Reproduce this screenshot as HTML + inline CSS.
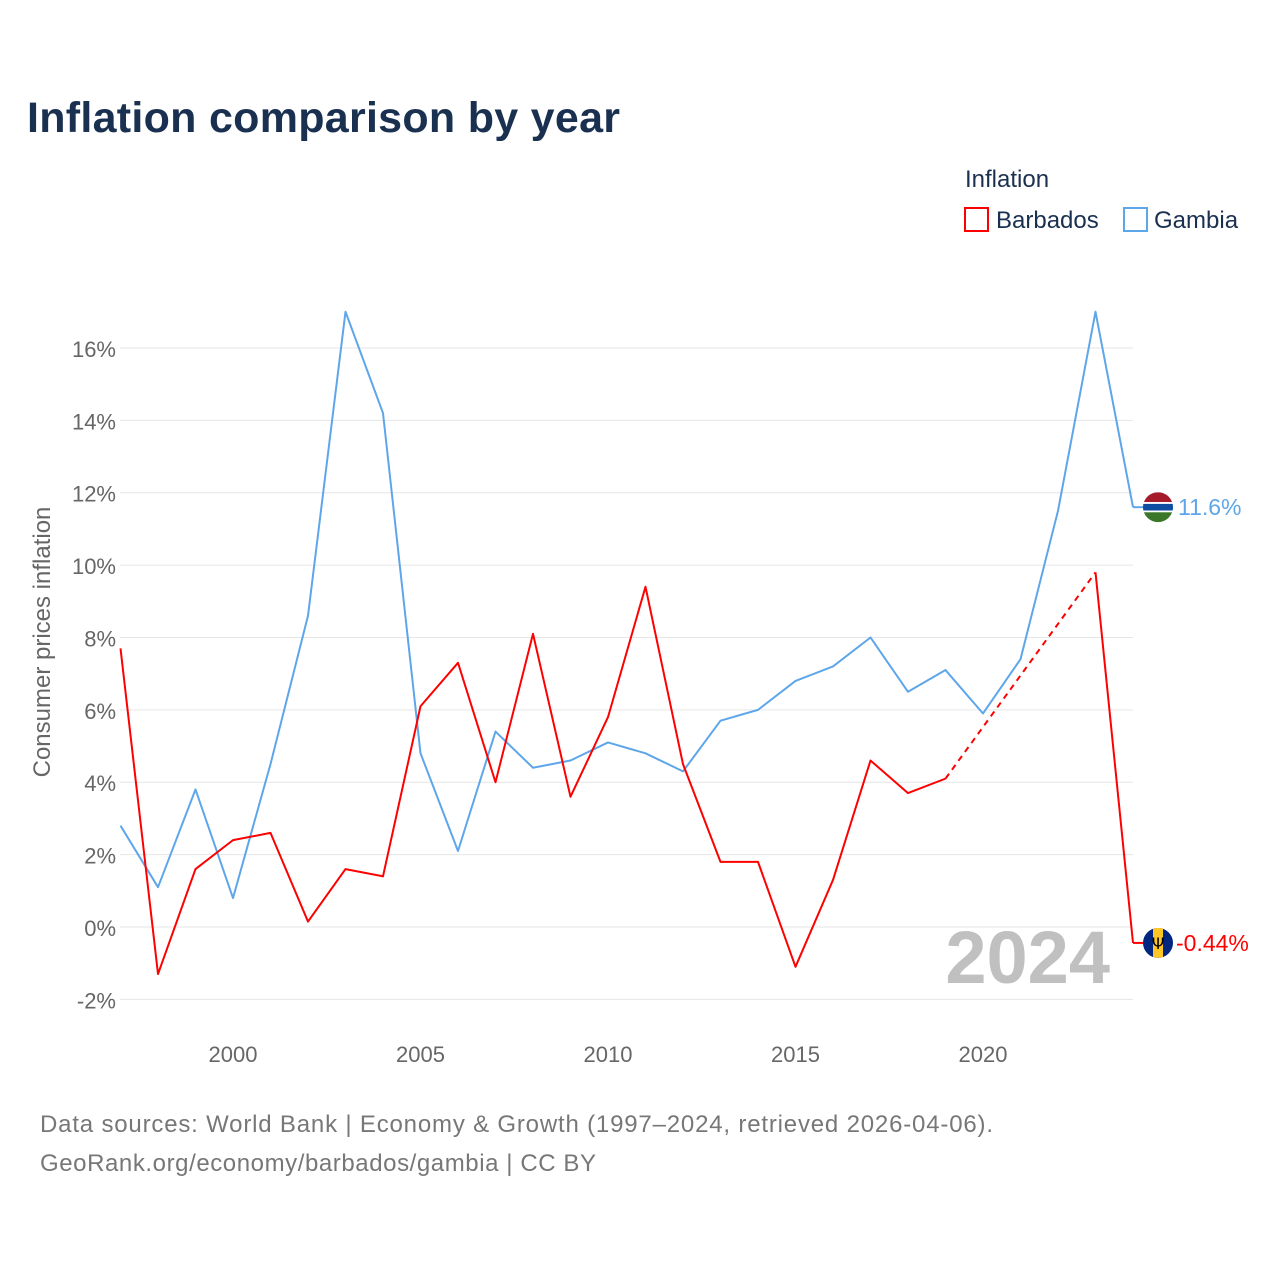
<!DOCTYPE html>
<html><head><meta charset="utf-8">
<style>
html,body{margin:0;padding:0;background:#fff;}
body{width:1280px;height:1280px;overflow:hidden;font-family:"Liberation Sans",sans-serif;}
</style></head>
<body>
<svg id="chart" width="1280" height="1280" xmlns="http://www.w3.org/2000/svg" font-family="Liberation Sans, sans-serif">
<text x="27" y="132" font-size="43" font-weight="bold" fill="#1a3050" textLength="593">Inflation comparison by year</text>
<text x="965" y="187" font-size="24" fill="#1a3050">Inflation</text>
<g>
<rect x="965" y="208" width="23" height="23" fill="none" stroke="#ff0000" stroke-width="2"/>
<text x="996" y="228" font-size="24" fill="#1a3050">Barbados</text></g>
<g>
<rect x="1124" y="208" width="23" height="23" fill="none" stroke="#5ea6ea" stroke-width="2"/>
<text x="1154" y="228" font-size="24" fill="#1a3050">Gambia</text></g>
<text transform="translate(50,642) rotate(-90)" text-anchor="middle" font-size="24" fill="#666">Consumer prices inflation</text>
<g id="grid"></g>
<g id="yticks"></g>
<g id="xticks"></g>
<text x="1110" y="983" text-anchor="end" font-size="74" font-weight="bold" fill="#c0c0c0">2024</text>
<g id="series"></g>
<text x="40" y="1132" font-size="24" fill="#777" textLength="953">Data sources: World Bank | Economy &amp; Growth (1997–2024, retrieved 2026-04-06).</text>
<text x="40" y="1171" font-size="24" fill="#777" textLength="556">GeoRank.org/economy/barbados/gambia | CC BY</text>
</svg>
<script>
const years=[1997,1998,1999,2000,2001,2002,2003,2004,2005,2006,2007,2008,2009,2010,2011,2012,2013,2014,2015,2016,2017,2018,2019,2020,2021,2022,2023,2024];
const barbados=[7.7,-1.3,1.6,2.4,2.6,0.15,1.6,1.4,6.1,7.3,4.0,8.1,3.6,5.8,9.4,4.5,1.8,1.8,-1.1,1.3,4.6,3.7,4.1,null,null,null,9.8,-0.44];
const gambia=[2.8,1.1,3.8,0.8,4.5,8.6,17.0,14.2,4.8,2.1,5.4,4.4,4.6,5.1,4.8,4.3,5.7,6.0,6.8,7.2,8.0,6.5,7.1,5.9,7.4,11.5,17.0,11.6];
const yTicks=[-2,0,2,4,6,8,10,12,14,16];
const xTicks=[2000,2005,2010,2015,2020];
const NS="http://www.w3.org/2000/svg";
const xs=y=>120.5+(y-1997)*37.5;
const ys=v=>927-v*36.19;
function mk(t,a,p){const e=document.createElementNS(NS,t);for(const k in a)e.setAttribute(k,a[k]);p.appendChild(e);return e;}
const grid=document.getElementById('grid'),yt=document.getElementById('yticks'),xt=document.getElementById('xticks'),ser=document.getElementById('series');
yTicks.forEach(v=>{
 mk('line',{x1:120,x2:1133,y1:ys(v),y2:ys(v),stroke:'#e6e6e6','stroke-width':1},grid);
 const t=mk('text',{x:116,y:ys(v)+9,'text-anchor':'end','font-size':22,fill:'#666'},yt);
 
 
 t.textContent=v+'%';
});
xTicks.forEach(v=>{
 const t=mk('text',{x:xs(v),y:1062,'text-anchor':'middle','font-size':22,fill:'#666'},xt);
 
 
 t.textContent=v;
});
function draw(vals,color,name){
 let d='',prev=null;
 vals.forEach((v,i)=>{
  if(v==null){return;}
  const x=xs(years[i]),y=ys(v);
  if(prev!=null&&prev.i!==i-1){
   const dl=mk('line',{x1:prev.x,y1:prev.y,x2:x,y2:y,stroke:color,'stroke-width':2,'stroke-dasharray':'6,5'},ser);
   
   
   d+='M'+x+','+y;
  } else d+=(d?'L':'M')+x+','+y;
  prev={i,x,y};
 });
 const p=mk('path',{d:d,fill:'none',stroke:color,'stroke-width':2,'stroke-linejoin':'round'},ser);
 
 
 const last=vals[vals.length-1];
 const ly=ys(last);
 const xe=xs(years[years.length-1]);
 mk('line',{x1:xe,y1:ly,x2:xe+14,y2:ly,stroke:color,'stroke-width':2},ser);
 const fg=mk('g',{},ser);
 
 
 return {ly,fg,last};
}
const g=draw(gambia,'#5ea6ea','gambia');
const b=draw(barbados,'#ff0000','barbados');
(function(){const cx=1158,cy=g.ly,r=15;const f=g.fg;
 const cp=mk('clipPath',{id:'cg'},f);mk('circle',{cx:cx,cy:cy,r:r},cp);
 const gg=mk('g',{'clip-path':'url(#cg)'},f);
 mk('rect',{x:cx-r,y:cy-r,width:2*r,height:r*0.66,fill:'#a51b2b'},gg);
 mk('rect',{x:cx-r,y:cy-r*0.34,width:2*r,height:r*0.68,fill:'#fff'},gg);
 mk('rect',{x:cx-r,y:cy-r*0.22,width:2*r,height:r*0.44,fill:'#0c4da2'},gg);
 mk('rect',{x:cx-r,y:cy+r*0.34,width:2*r,height:r*0.66,fill:'#3a7728'},gg);
})();
(function(){const cx=1158,cy=b.ly,r=15;const f=b.fg;
 const cp=mk('clipPath',{id:'cb'},f);mk('circle',{cx:cx,cy:cy,r:r},cp);
 const gg=mk('g',{'clip-path':'url(#cb)'},f);
 mk('rect',{x:cx-r,y:cy-r,width:2*r,height:2*r,fill:'#00267f'},gg);
 mk('rect',{x:cx-r/3,y:cy-r,width:2*r/3,height:2*r,fill:'#ffc726'},gg);
 const t=mk('text',{x:cx,y:cy+6,'text-anchor':'middle','font-size':16,fill:'#000','font-family':'DejaVu Sans'},gg);t.textContent='Ψ';
})();
const gl=mk('text',{x:1178,y:g.ly+8,'font-size':23,fill:'#5ea6ea'},ser);


gl.textContent=g.last+'%';
const bl=mk('text',{x:1176,y:b.ly+8,'font-size':23,fill:'#ff0000'},ser);


bl.textContent=b.last+'%';
</script>
</body></html>
